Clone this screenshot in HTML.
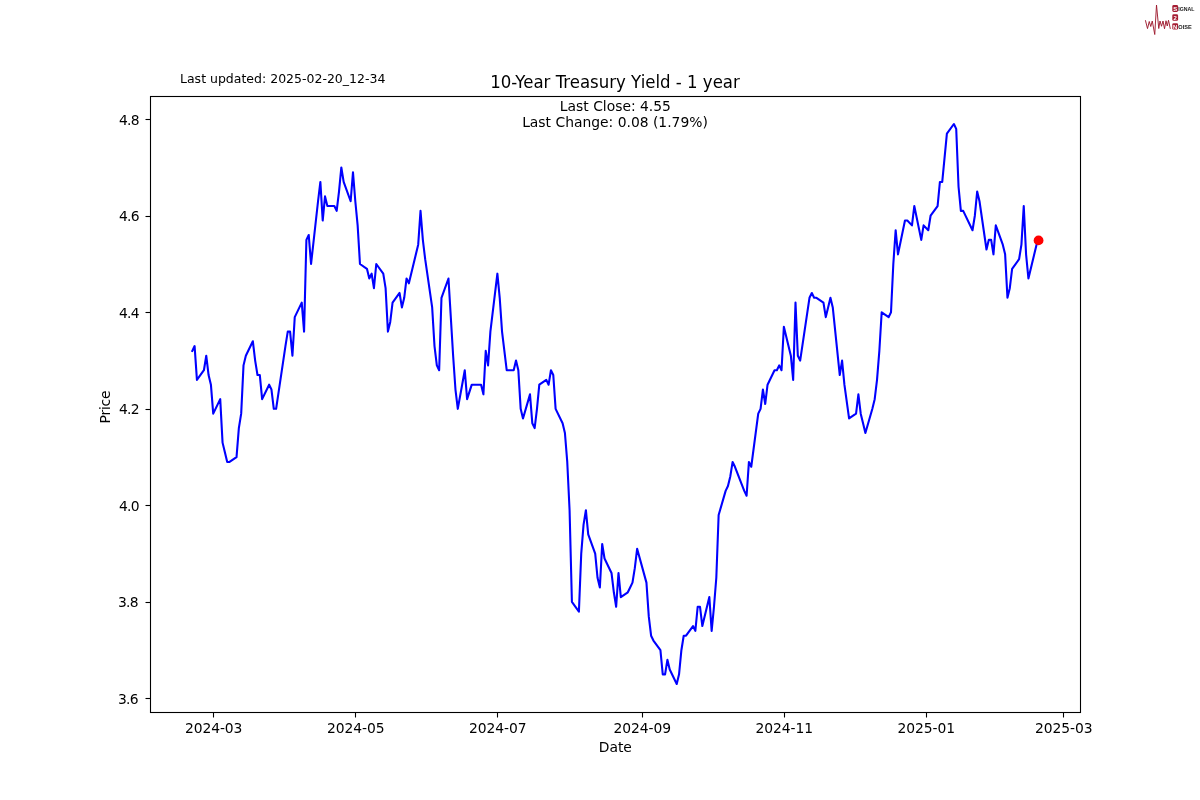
<!DOCTYPE html>
<html lang="en"><head><meta charset="utf-8"><title>10-Year Treasury Yield - 1 year</title>
<style>
html,body{margin:0;padding:0;background:#fff;}
body{width:1200px;height:800px;overflow:hidden;}
svg{display:block;}
text{font-family:"DejaVu Sans","Liberation Sans",sans-serif;fill:#000;}
</style></head><body>
<svg width="1200" height="800" viewBox="0 0 1200 800">
<rect width="1200" height="800" fill="#fff"/>
<polyline points="192.27,350.90 194.60,346.07 196.93,379.86 203.92,370.21 206.25,355.72 208.58,375.03 210.91,384.69 213.23,413.66 220.22,399.17 222.55,442.62 224.88,452.28 227.21,461.93 229.54,461.93 236.53,457.10 238.85,428.14 241.18,413.66 243.51,365.38 245.84,355.72 252.83,341.24 255.16,360.55 257.49,375.03 259.82,375.03 262.14,399.17 269.13,384.69 271.46,389.52 273.79,408.83 276.12,408.83 285.44,346.07 287.76,331.59 290.09,331.59 292.42,355.72 294.75,317.10 301.74,302.62 304.07,331.59 306.40,239.86 308.73,235.03 311.06,264.00 318.04,201.24 320.37,181.93 322.70,220.55 325.03,196.41 327.36,206.07 334.35,206.07 336.68,210.90 339.00,191.59 341.33,167.45 343.66,181.93 350.65,201.24 352.98,172.28 355.31,201.24 357.64,225.38 359.97,264.00 366.95,268.83 369.28,278.48 371.61,273.66 373.94,288.14 376.27,264.00 383.26,273.66 385.59,288.14 387.92,331.59 390.24,321.93 392.57,302.62 399.56,292.97 401.89,307.45 404.22,297.79 406.55,278.48 408.88,283.31 418.19,244.69 420.52,210.90 422.85,239.86 425.18,259.17 432.17,307.45 434.50,346.07 436.83,365.38 439.15,370.21 441.48,297.79 448.47,278.48 450.80,317.10 453.13,355.72 455.46,389.52 457.79,408.83 464.77,370.21 467.10,399.17 471.76,384.69 474.09,384.69 481.08,384.69 483.41,394.34 485.74,350.90 488.07,365.38 490.39,331.59 497.38,273.66 499.71,297.79 502.04,331.59 506.70,370.21 513.69,370.21 516.01,360.55 518.34,370.21 520.67,408.83 523.00,418.48 529.99,394.34 532.32,423.31 534.65,428.14 536.98,408.83 539.30,384.69 546.29,379.86 548.62,384.69 550.95,370.21 553.28,375.03 555.61,408.83 562.60,423.31 564.92,432.97 567.25,461.93 569.58,510.21 571.91,601.93 578.90,611.59 581.23,553.66 583.56,524.69 585.89,510.21 588.22,534.34 595.20,553.66 597.53,577.79 599.86,587.45 602.19,544.00 604.52,558.48 611.51,572.97 613.84,592.28 616.16,606.76 618.49,572.97 620.82,597.10 627.81,592.28 630.14,587.45 632.47,582.62 634.80,568.14 637.13,548.83 646.44,582.62 648.77,616.41 651.10,635.72 653.43,640.55 660.42,650.21 662.75,674.34 665.08,674.34 667.40,659.86 669.73,669.52 676.72,684.00 679.05,674.34 681.38,650.21 683.71,635.72 686.04,635.72 693.02,626.07 695.35,630.90 697.68,606.76 700.01,606.76 702.34,626.07 709.33,597.10 711.66,630.90 713.99,606.76 716.31,577.79 718.64,515.03 725.63,490.90 727.96,486.07 730.29,476.41 732.62,461.93 734.95,466.76 744.26,490.90 746.59,495.72 748.92,461.93 751.25,466.76 758.24,413.66 760.57,408.83 762.90,389.52 765.23,404.00 767.55,384.69 774.54,370.21 776.87,370.21 779.20,365.38 781.53,370.21 783.86,326.76 790.85,355.72 793.17,379.86 795.50,302.62 797.83,355.72 800.16,360.55 809.48,297.79 811.81,292.97 814.14,297.79 816.47,297.79 823.45,302.62 825.78,317.10 828.11,307.45 830.44,297.79 832.77,307.45 839.76,375.03 842.08,360.55 844.41,384.69 849.07,418.48 856.06,413.66 858.39,394.34 860.72,413.66 863.05,423.31 865.38,432.97 872.36,408.83 874.69,399.17 877.02,379.86 879.35,350.90 881.68,312.28 888.67,317.10 891.00,312.28 893.32,264.00 895.65,230.21 897.98,254.34 904.97,220.55 907.30,220.55 911.96,225.38 914.29,206.07 921.27,239.86 923.60,225.38 928.26,230.21 930.59,215.72 937.58,206.07 939.91,181.93 942.24,181.93 946.89,133.66 953.88,124.00 956.21,128.83 958.54,186.76 960.87,210.90 963.20,210.90 972.51,230.21 974.84,215.72 977.17,191.59 979.50,201.24 986.49,249.52 988.82,239.86 991.15,239.86 993.47,254.34 995.80,225.38 1002.79,244.69 1005.12,254.34 1007.45,297.79 1009.78,288.14 1012.11,268.83 1019.09,259.17 1021.42,244.69 1023.75,206.07 1026.08,254.34 1028.41,278.48 1037.73,239.86" fill="none" stroke="#0000ff" stroke-width="2.08" stroke-linejoin="round" stroke-linecap="square"/>
<circle cx="1038.55" cy="240.4" r="4.9" fill="#ff0000"/>
<rect x="150.5" y="96.5" width="930" height="616" fill="none" stroke="#000" stroke-width="1.1"/>
<line x1="213.5" y1="712.5" x2="213.5" y2="717.5" stroke="#000" stroke-width="1.1"/><text x="213.63" y="733" font-size="13.89" text-anchor="middle" letter-spacing="-0.07">2024-03</text>
<line x1="355.5" y1="712.5" x2="355.5" y2="717.5" stroke="#000" stroke-width="1.1"/><text x="355.71" y="733" font-size="13.89" text-anchor="middle" letter-spacing="-0.07">2024-05</text>
<line x1="497.5" y1="712.5" x2="497.5" y2="717.5" stroke="#000" stroke-width="1.1"/><text x="497.78" y="733" font-size="13.89" text-anchor="middle" letter-spacing="-0.07">2024-07</text>
<line x1="642.5" y1="712.5" x2="642.5" y2="717.5" stroke="#000" stroke-width="1.1"/><text x="642.18" y="733" font-size="13.89" text-anchor="middle" letter-spacing="-0.07">2024-09</text>
<line x1="784.5" y1="712.5" x2="784.5" y2="717.5" stroke="#000" stroke-width="1.1"/><text x="784.26" y="733" font-size="13.89" text-anchor="middle" letter-spacing="-0.07">2024-11</text>
<line x1="926.5" y1="712.5" x2="926.5" y2="717.5" stroke="#000" stroke-width="1.1"/><text x="926.33" y="733" font-size="13.89" text-anchor="middle" letter-spacing="-0.07">2025-01</text>
<line x1="1063.5" y1="712.5" x2="1063.5" y2="717.5" stroke="#000" stroke-width="1.1"/><text x="1063.75" y="733" font-size="13.89" text-anchor="middle" letter-spacing="-0.07">2025-03</text>
<line x1="145.5" y1="698.5" x2="150.5" y2="698.5" stroke="#000" stroke-width="1.1"/><text x="117.9" y="704" font-size="13.89" letter-spacing="-0.7">3.6</text>
<line x1="145.5" y1="602.5" x2="150.5" y2="602.5" stroke="#000" stroke-width="1.1"/><text x="117.9" y="607" font-size="13.89" letter-spacing="-0.7">3.8</text>
<line x1="145.5" y1="505.5" x2="150.5" y2="505.5" stroke="#000" stroke-width="1.1"/><text x="118.9" y="511" font-size="13.89" letter-spacing="-0.7">4.0</text>
<line x1="145.5" y1="409.5" x2="150.5" y2="409.5" stroke="#000" stroke-width="1.1"/><text x="118.9" y="414" font-size="13.89" letter-spacing="-0.7">4.2</text>
<line x1="145.5" y1="312.5" x2="150.5" y2="312.5" stroke="#000" stroke-width="1.1"/><text x="118.9" y="318" font-size="13.89" letter-spacing="-0.7">4.4</text>
<line x1="145.5" y1="216.5" x2="150.5" y2="216.5" stroke="#000" stroke-width="1.1"/><text x="118.9" y="221" font-size="13.89" letter-spacing="-0.7">4.6</text>
<line x1="145.5" y1="119.5" x2="150.5" y2="119.5" stroke="#000" stroke-width="1.1"/><text x="118.9" y="125" font-size="13.89" letter-spacing="-0.7">4.8</text>
<text x="615.3" y="752" font-size="13.89" text-anchor="middle">Date</text>
<text transform="translate(110,423.47) rotate(-90)" font-size="13.89" letter-spacing="-0.22">Price</text>
<text transform="translate(615,88) scale(0.9946,1.07)" font-size="16.67" text-anchor="middle">10-Year Treasury Yield - 1 year</text>
<text x="615.4" y="111" font-size="13.89" text-anchor="middle">Last Close: 4.55</text>
<text x="615" y="127" font-size="13.89" text-anchor="middle">Last Change: 0.08 (1.79%)</text>
<text x="180" y="82.5" font-size="12.5">Last updated: 2025-02-20_12-34</text>
<g id="logo">
<polyline points="1145.5,20.6 1147.5,28.6 1149.25,21.5 1150.75,26.5 1152.25,21 1154.75,34.5 1156.5,5 1158.75,28.5 1160,21 1161.5,26.25 1163,21 1164.5,28.75 1166,20.75 1167.25,26 1168.5,20.25 1170.25,28.5" fill="none" stroke="#9e1b2f" stroke-width="0.95" stroke-linejoin="round" stroke-linecap="round"/>
<rect x="1172.3" y="5" width="5.8" height="7" rx="1.4" fill="#a51d33"/>
<rect x="1172.3" y="14.3" width="5.8" height="6.5" rx="1.4" fill="#a51d33"/>
<rect x="1172.3" y="23.2" width="5.8" height="6.4" rx="1.4" fill="#a51d33"/>
<text x="1175.2" y="10.8" font-size="5.9" font-weight="bold" text-anchor="middle" style="fill:#fff;font-family:'Liberation Sans',sans-serif">S</text>
<text x="1175.2" y="19.7" font-size="5.9" font-weight="bold" text-anchor="middle" style="fill:#fff;font-family:'Liberation Sans',sans-serif">2</text>
<text x="1175.2" y="28.6" font-size="5.9" font-weight="bold" text-anchor="middle" style="fill:#fff;font-family:'Liberation Sans',sans-serif">N</text>
<text x="1178.3" y="11.3" font-size="6.2" font-weight="bold" style="fill:#1c1c1c;font-family:'Liberation Sans',sans-serif" textLength="16.2" lengthAdjust="spacingAndGlyphs">IGNAL</text>
<text x="1178.3" y="28.9" font-size="6.2" font-weight="bold" style="fill:#1c1c1c;font-family:'Liberation Sans',sans-serif" textLength="13.4" lengthAdjust="spacingAndGlyphs">OISE</text>
</g>
</svg></body></html>
